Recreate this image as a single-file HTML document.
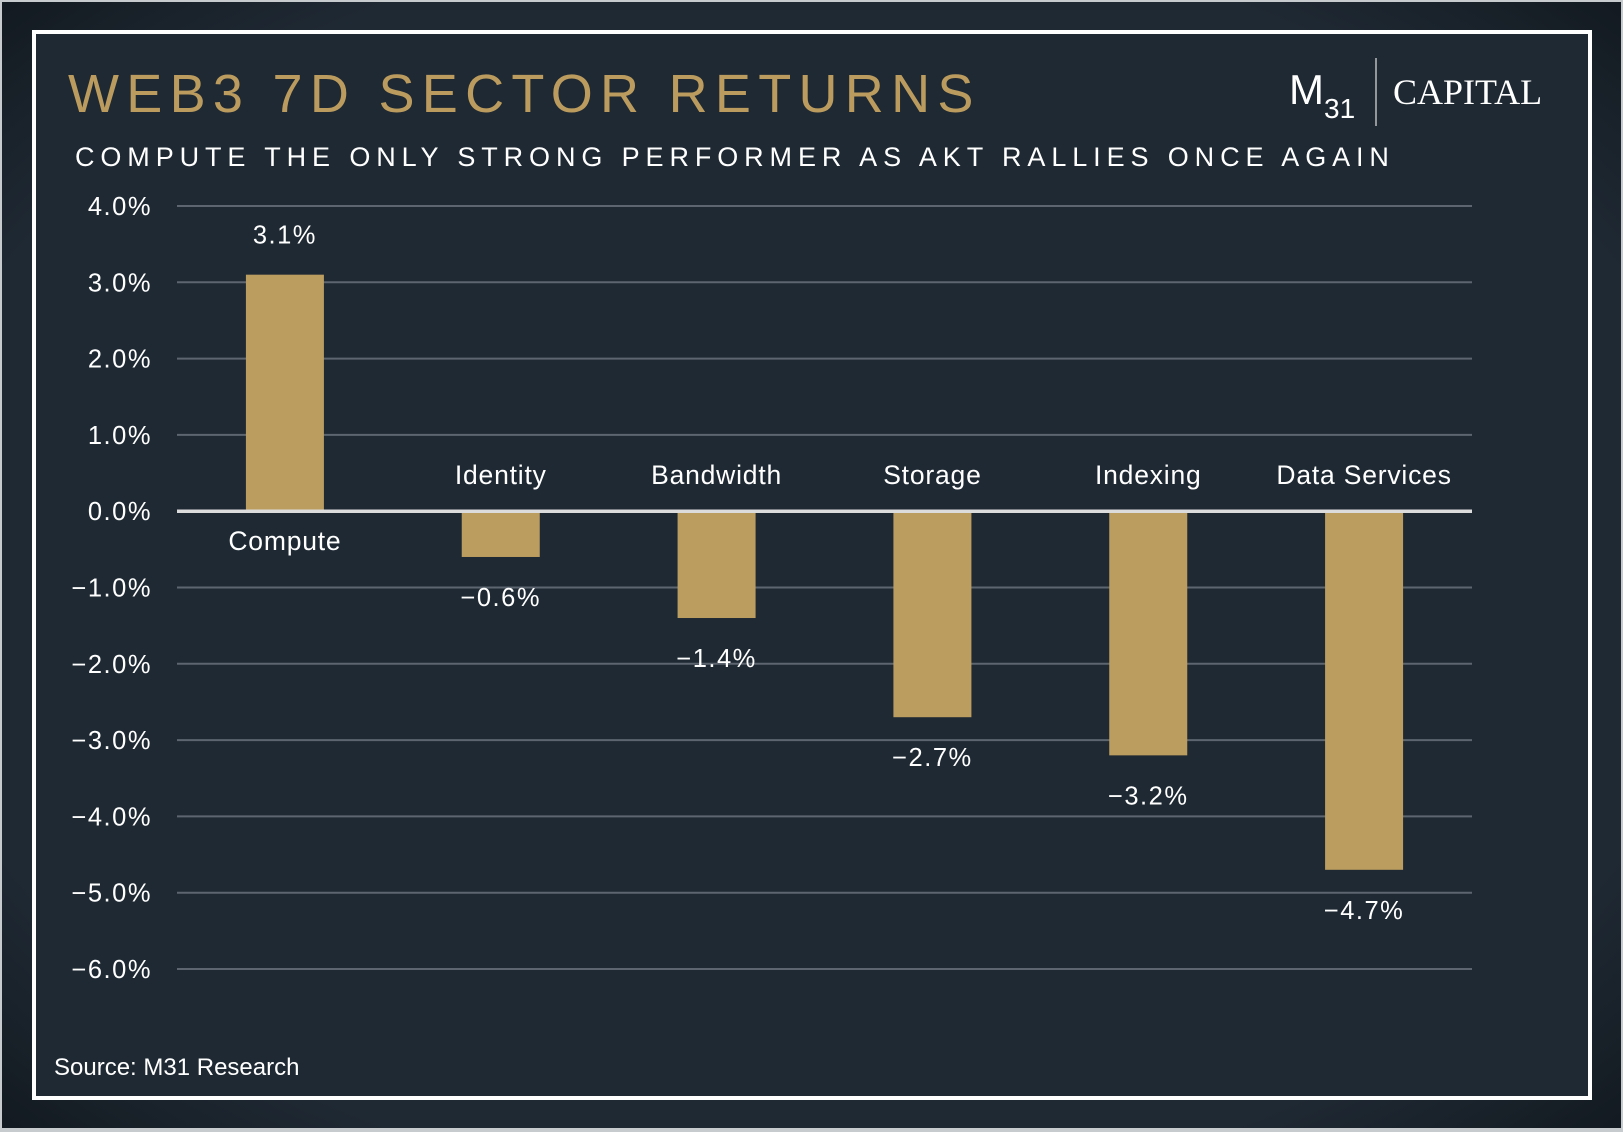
<!DOCTYPE html>
<html><head><meta charset="utf-8"><style>
html,body{margin:0;padding:0;background:#fff}
#root{position:relative;width:1623px;height:1132px;overflow:hidden}
svg{display:block}
</style></head><body>
<div id="root">
<svg id="chart" width="1623" height="1132" xmlns="http://www.w3.org/2000/svg" font-family="Liberation Sans, sans-serif">
<defs>
<radialGradient id="vig" cx="50%" cy="50%" r="75%">
<stop offset="0.75" stop-color="#1f2933"/>
<stop offset="1" stop-color="#0f151b"/>
</radialGradient>
</defs>
<rect x="0" y="0" width="1623" height="1132" fill="#c8cbce"/>
<rect x="2" y="2" width="1619" height="1126" fill="url(#vig)"/>
<rect x="34" y="32" width="1556" height="1066" fill="#1f2933" stroke="#ffffff" stroke-width="4"/>
<text x="68" y="112" font-size="54" fill="#bb9c5e" letter-spacing="7.3">WEB3 7D SECTOR RETURNS</text>
<text x="75" y="166" font-size="27" fill="#ffffff" letter-spacing="5.9">COMPUTE THE ONLY STRONG PERFORMER AS AKT RALLIES ONCE AGAIN</text>
<g>
<text x="1289" y="104" font-size="42" fill="#ffffff">M<tspan font-size="28" dy="14">31</tspan></text>
<line x1="1376" y1="58" x2="1376" y2="126" stroke="#bbbbbb" stroke-width="1.5"/>
<text x="1393" y="104" font-size="36" fill="#ffffff" font-family="Liberation Serif, serif">CAPITAL</text>
</g>
<g id="grid"></g>
<g id="bars"></g>
<text x="54" y="1075" font-size="24" fill="#ffffff">Source: M31 Research</text>
</svg>
</div>
<script>
const categories = ["Compute","Identity","Bandwidth","Storage","Indexing","Data Services"];
const values = [3.1,-0.6,-1.4,-2.7,-3.2,-4.7];
const valueLabels = ["3.1%","\u22120.6%","\u22121.4%","\u22122.7%","\u22123.2%","\u22124.7%"];
const ticks = [4,3,2,1,0,-1,-2,-3,-4,-5,-6];
const tickLabels = ["4.0%","3.0%","2.0%","1.0%","0.0%","\u22121.0%","\u22122.0%","\u22123.0%","\u22124.0%","\u22125.0%","\u22126.0%"];

const NS="http://www.w3.org/2000/svg";
const X0=177, X1=1472, Y_TOP=206, Y_BOT=969, VMAX=4, VMIN=-6;
function y(v){return Y_TOP+(VMAX-v)/(VMAX-VMIN)*(Y_BOT-Y_TOP);}
const band=(X1-X0)/categories.length;
function xc(i){return X0+band*(i+0.5);}
function mk(tag,attrs,parent,text){const e=document.createElementNS(NS,tag);for(const k in attrs)e.setAttribute(k,attrs[k]);if(text!==undefined)e.textContent=text;parent.appendChild(e);return e;}
const grid=document.getElementById('grid'), bars=document.getElementById('bars');
ticks.forEach((t,i)=>{
  if(t!==0){
    const l=mk('line',{x1:X0,x2:X1,y1:y(t),y2:y(t),stroke:'#5d6670','stroke-width':2},grid);
    
    
  }
  const tx=mk('text',{x:152,y:y(t)+9,'font-size':25.5,fill:'#ffffff','text-anchor':'end','letter-spacing':'1.5'},grid,tickLabels[i]);
  
  
});
const BW=78;
values.forEach((v,i)=>{
  const top=Math.min(y(v),y(0)), h=Math.abs(y(v)-y(0));
  const r=mk('rect',{x:xc(i)-BW/2,y:top,width:BW,height:h,fill:'#bb9d5f'},bars);
  
  
  const vy = v>=0 ? y(v)-31 : y(v)+49;
  const vl=mk('text',{x:xc(i),y:vy,'font-size':25.5,fill:'#ffffff','text-anchor':'middle','letter-spacing':'1.5'},bars,valueLabels[i]);
  
  
  const cy = v>=0 ? y(0)+39 : y(0)-27;
  const cl=mk('text',{x:xc(i),y:cy,'font-size':26.5,fill:'#ffffff','text-anchor':'middle','letter-spacing':'0.8'},bars,categories[i]);
  
  
});
const z=mk('line',{x1:X0,x2:X1,y1:y(0),y2:y(0),stroke:'#dcdcdc','stroke-width':3.5},bars);


</script>
</body></html>
